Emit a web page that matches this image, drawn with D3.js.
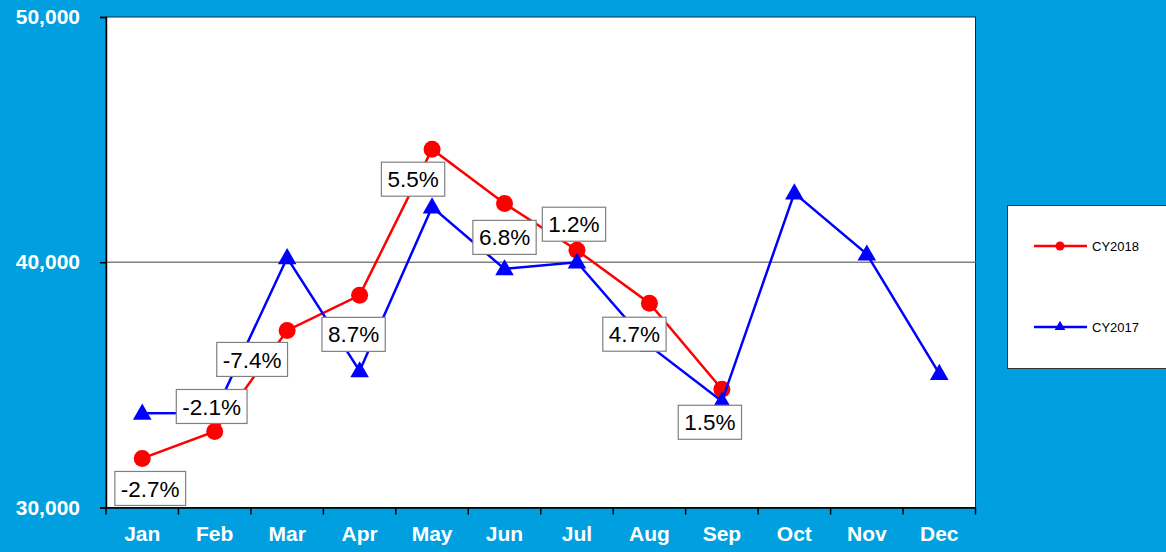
<!DOCTYPE html>
<html>
<head>
<meta charset="utf-8">
<script src="https://cdn.jsdelivr.net/npm/d3@7"></script>
<style>
  html, body { margin: 0; padding: 0; background: #009FE0; }
  svg { display: block; }
</style>
</head>
<body>
<svg id="chart" width="1166" height="552"></svg>
<script>
const months = ["Jan","Feb","Mar","Apr","May","Jun","Jul","Aug","Sep","Oct","Nov","Dec"];
const cy2018 = [32000, 33100, 37220, 38650, 44610, 42400, 40490, 38330, 34820];
const cy2017 = [33840, 33850, 40180, 35570, 42250, 39730, 40000, 36600, 34330, 42820, 40330, 35460];
const pctLabels = ["-2.7%","-2.1%","-7.4%","8.7%","5.5%","6.8%","1.2%","4.7%","1.5%"];
const yTicks = [30000, 40000, 50000];
const seriesNames = ["CY2018", "CY2017"];

// layout: label offsets (px) from the CY2018 point
const labelDx = [8, -3, -35, -6, -19, 0, -3, -15, -12];
const labelDy = [30, -25, 29, 39, 30, 34, -26, 31, 33];

const svg = d3.select("#chart");
const plot = {left: 106, top: 17, right: 975.5, bottom: 507.5};
const FONT = "Liberation Sans, Arial, sans-serif";

const x = d3.scaleBand().domain(months).range([plot.left, plot.right]).padding(0);
const y = d3.scaleLinear().domain([30000, 50000]).range([plot.bottom, plot.top]);
const cx = m => x(m) + x.bandwidth() / 2;

// plot area
svg.append("rect")
  .attr("x", plot.left).attr("y", plot.top)
  .attr("width", plot.right - plot.left).attr("height", plot.bottom - plot.top)
  .attr("fill", "#fff").attr("stroke", "#0c2a44").attr("stroke-width", 1);

// gridline at 40,000
svg.append("line")
  .attr("x1", plot.left).attr("x2", plot.right)
  .attr("y1", y(40000)).attr("y2", y(40000))
  .attr("stroke", "#808080").attr("stroke-width", 1.5);

// y axis
const yAxis = d3.axisLeft(y).tickValues(yTicks).tickSize(6).tickPadding(20)
  .tickFormat(d3.format(","));
const gy = svg.append("g").attr("transform", `translate(${plot.left},0)`).call(yAxis);
gy.select(".domain").attr("stroke", "#000").attr("stroke-width", 1.5);
gy.selectAll(".tick line").attr("stroke", "#000").attr("stroke-width", 1.5);
gy.selectAll(".tick text").attr("fill", "#fff")
  .style("font-family", FONT)
  .style("font-size", "21px").style("font-weight", "bold");

// x axis
const xAxis = d3.axisBottom(x).tickSize(0).tickPadding(19);
const gx = svg.append("g").attr("transform", `translate(0,${plot.bottom})`).call(xAxis);
gx.select(".domain").attr("stroke", "#000").attr("stroke-width", 1.5);
gx.selectAll(".tick text").attr("fill", "#fff")
  .style("font-family", FONT)
  .style("font-size", "21px").style("font-weight", "bold");
// category boundary ticks
const bounds = months.map(m => x(m)).concat([plot.right]);
svg.append("g").selectAll("line").data(bounds).join("line")
  .attr("x1", d => d).attr("x2", d => d)
  .attr("y1", plot.bottom).attr("y2", plot.bottom + 7)
  .attr("stroke", "#000").attr("stroke-width", 1.5);

const line = d3.line().x((d, i) => cx(months[i])).y(d => y(d));

// CY2018
svg.append("path").datum(cy2018).attr("d", line)
  .attr("fill", "none").attr("stroke", "#FF0000").attr("stroke-width", 2.5);
svg.append("g").selectAll("circle").data(cy2018).join("circle")
  .attr("cx", (d, i) => cx(months[i])).attr("cy", d => y(d)).attr("r", 8.5)
  .attr("fill", "#FF0000");

// CY2017
const tri = d3.symbol().type(d3.symbolTriangle).size(150);
svg.append("path").datum(cy2017).attr("d", line)
  .attr("fill", "none").attr("stroke", "#0000FF").attr("stroke-width", 2.5);
svg.append("g").selectAll("path").data(cy2017).join("path")
  .attr("d", tri)
  .attr("transform", (d, i) => `translate(${cx(months[i])},${y(d) + 1})`)
  .attr("fill", "#0000FF");

// percentage labels
const lg = svg.append("g").selectAll("g").data(pctLabels).join("g")
  .attr("transform", (d, i) => `translate(${cx(months[i]) + labelDx[i]},${y(cy2018[i]) + labelDy[i]})`);
lg.each(function(d) {
  const g = d3.select(this);
  const rect = g.append("rect").attr("fill", "#fff").attr("stroke", "#808080").attr("stroke-width", 1.2);
  const t = g.append("text").text(d)
    .attr("text-anchor", "middle").attr("dy", "0.36em")
    .attr("fill", "#000")
    .style("font-family", FONT)
    .style("font-size", "22.5px");
  const bb = t.node().getBBox();
  const w = bb.width + 12, h = 34;
  rect.attr("x", -w / 2).attr("y", -h / 2).attr("width", w).attr("height", h);
});

// legend
const leg = svg.append("g");
leg.append("rect").attr("x", 1007.5).attr("y", 205.5).attr("width", 170).attr("height", 163)
  .attr("fill", "#fff").attr("stroke", "#333").attr("stroke-width", 1);
const legY = [246, 327];
const legColors = ["#FF0000", "#0000FF"];
seriesNames.forEach((name, i) => {
  leg.append("line").attr("x1", 1034).attr("x2", 1087).attr("y1", legY[i]).attr("y2", legY[i])
    .attr("stroke", legColors[i]).attr("stroke-width", 2.5);
  if (i === 0) {
    leg.append("circle").attr("cx", 1060).attr("cy", legY[i]).attr("r", 4.5).attr("fill", legColors[i]);
  } else {
    leg.append("path").attr("d", d3.symbol().type(d3.symbolTriangle).size(50))
      .attr("transform", `translate(1060,${legY[i]})`).attr("fill", legColors[i]);
  }
  leg.append("text").attr("x", 1092).attr("y", legY[i]).attr("dy", "0.36em")
    .text(name).attr("fill", "#000")
    .style("font-family", FONT).style("font-size", "13px");
});
</script>
</body>
</html>
